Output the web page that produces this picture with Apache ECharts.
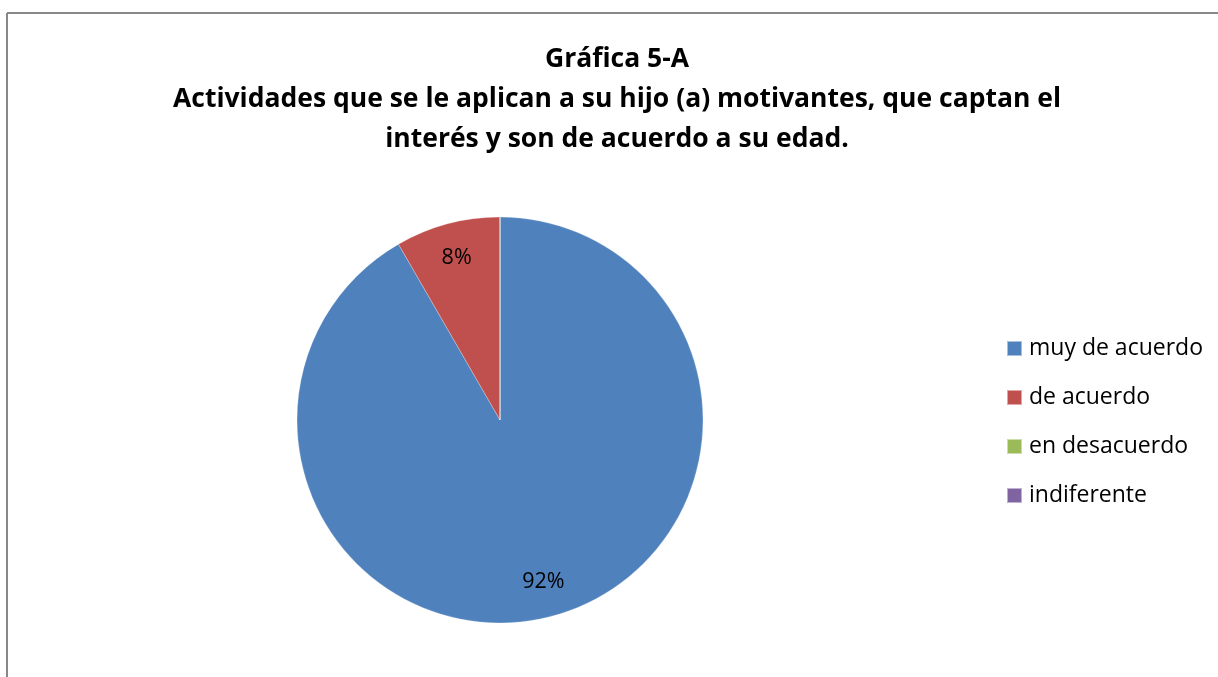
<!DOCTYPE html>
<html><head><meta charset="utf-8">
<script src="https://cdn.jsdelivr.net/npm/echarts@6/dist/echarts.min.js"></script>
<style>html,body{margin:0;padding:0;background:#fff}#c{width:1218px;height:677px}</style>
</head><body><div id="c"></div>
<script>
const titleLines = ['Gráfica 5-A', 'Actividades que se le aplican a su hijo (a) motivantes, que captan el', 'interés y son de acuerdo a su edad.'];
const categories = ['muy de acuerdo', 'de acuerdo', 'en desacuerdo', 'indiferente'];
const values = [11, 1, 0, 0];
const colors = ['#4F81BD', '#C0504D', '#9BBB59', '#8064A2'];

const font = '"Open Sans", "Noto Sans", sans-serif';
const chart = echarts.init(document.getElementById('c'));
const data = categories.map((n, i) => ({ name: n, value: values[i], itemStyle: { color: colors[i] } }));
chart.setOption({
  animation: false,
  color: colors,
  title: {
    text: titleLines.join('\n'),
    left: 612, top: 34, textAlign: 'center',
    textStyle: { fontFamily: font, fontWeight: 'bold', fontSize: 26.5, lineHeight: 40, color: '#000' }
  },
  legend: {
    orient: 'vertical', left: 1001, top: 332,
    itemWidth: 15, itemHeight: 15, itemGap: 26,
    icon: 'rect',
    data: categories,
    textStyle: { fontFamily: font, fontSize: 23, color: '#000', padding: [0, 0, 0, 2] }
  },
  graphic: [
    { type: 'line', shape: { x1: 7, y1: 13, x2: 1218, y2: 13 }, style: { stroke: '#888', lineWidth: 2 } },
    { type: 'line', shape: { x1: 7, y1: 13, x2: 7, y2: 677 }, style: { stroke: '#888', lineWidth: 2 } }
  ],
  series: [
    {
      type: 'pie', center: [500, 420], radius: [0, 203], startAngle: 90, clockwise: true,
      data: data, label: { show: false }, labelLine: { show: false },
      itemStyle: { borderColor: 'rgba(255,255,255,0.5)', borderWidth: 0.5 },
      emphasis: { disabled: true }, silent: true
    },
    {
      type: 'pie', center: [500, 420], radius: [126, 203], startAngle: 90, clockwise: true,
      data: categories.map((n, i) => ({ name: n, value: values[i], itemStyle: { color: 'transparent' } })),
      label: {
        show: true, position: 'inside', color: '#000', fontFamily: font, fontSize: 21.5,
        formatter: p => p.value > 0 ? Math.round(p.percent) + '%' : ''
      },
      labelLine: { show: false }, emphasis: { disabled: true }, silent: true
    }
  ]
});
</script></body></html>
